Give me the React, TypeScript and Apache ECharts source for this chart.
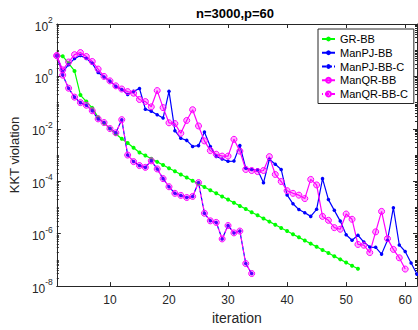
import React, { useEffect, useRef } from "react";
import * as echarts from "echarts";

// log10 of KKT violation, iteration k = index + 1
const grbbLog = [
  0.79, 0.77, 0.5, 0.21, -0.71, -0.96, -1.2, -1.56, -1.78, -1.99, -2.2, -2.38, -2.54, -2.72, -2.9,
  -3.02, -3.14, -3.26, -3.38, -3.5, -3.62, -3.74, -3.86, -3.98, -4.1, -4.22, -4.34, -4.46, -4.58,
  -4.7, -4.82, -4.94, -5.06, -5.18, -5.3, -5.42, -5.54, -5.66, -5.78, -5.9, -6.02, -6.14, -6.26,
  -6.38, -6.5, -6.62, -6.74, -6.86, -6.98, -7.1, -7.22, -7.34,
];
const manpjLog = [
  0.79, 0.17, 0.45, 0.68, 0.8, 0.68, 0.5, 0.15, -0.02, -0.18, -0.38, -0.5, -0.69, -0.57, -0.46,
  -1.25, -1.33, -1.46, -1.59, -0.57, -2.07, -2.36, -2.44, -2.67, -2.64, -2.12, -2.67, -3.05, -3.15,
  -3.24, -3.23, -2.64, -3.5, -3.55, -3.56, -4.06, -3.16, -3.35, -3.55, -4.52, -4.86, -5.08, -5.2,
  -5.34, -5.07, -3.9, -4.7, -5.11, -5.52, -6.04, -6.25, -6.06, -6.32, -6.51, -6.52, -6.78, -6.25,
  -5.01, -6.43, -6.68, -7.12, -7.55,
];
const manpjCLog = [
  0.79, 0.05, -0.45, -0.79, -1.0, -1.1, -1.31, -1.62, -1.76, -1.99, -2.15, -1.65, -3.0, -3.25, -3.4,
  -3.47, -3.22, -3.53, -3.9, -4.21, -4.46, -4.54, -4.62, -4.58, -4.05, -5.22, -5.51, -5.57, -6.2,
  -5.69, -5.97, -5.9, -7.14, -7.52,
];
const manqrLog = [
  0.79, 0.25, 0.55, 0.83, 0.91, 0.76, 0.57, 0.28, 0.0, -0.17, -0.36, -0.48, -0.58, -0.64, -0.88,
  -0.96, -1.16, -0.54, -1.19, -1.77, -1.8, -2.17, -1.68, -1.27, -1.89, -2.46, -2.83, -2.97, -3.04,
  -3.04, -2.4, -2.85, -3.55, -3.59, -3.63, -3.59, -3.06, -3.74, -4.01, -4.36, -4.46, -4.53, -4.66,
  -3.93, -4.14, -5.34, -5.49, -5.77, -5.83, -5.25, -5.45, -6.41, -6.44, -6.72, -5.93, -5.15, -6.19,
  -6.6, -6.92, -7.35,
];
const manqrCLog = [
  0.79, 0.05, -0.45, -0.79, -1.0, -1.1, -1.31, -1.62, -1.76, -1.99, -2.15, -1.65, -3.0, -3.25, -3.4,
  -3.47, -3.22, -3.53, -3.9, -4.21, -4.46, -4.54, -4.62, -4.58, -4.05, -5.22, -5.51, -5.57, -6.2,
  -5.69, -5.97, -5.9, -7.14, -7.52,
];
const seriesNames = ["GR-BB", "ManPJ-BB", "ManPJ-BB-C", "ManQR-BB", "ManQR-BB-C"];
const xTicks = [10, 20, 30, 40, 50, 60];
const yExpMin = -8;
const yExpMax = 2;
const titleText = "n=3000,p=60";

const FONT = "'Liberation Sans', Arial, Helvetica, sans-serif";
const AX = "#262626";

const toPoints = (arr: number[]) => arr.map((e, i) => [i + 1, e]);

export default function App() {
  const ref = useRef<HTMLDivElement>(null);
  useEffect(() => {
    document.body.style.margin = "0";
    if (!ref.current) return;
    const chart = echarts.init(ref.current, undefined, { renderer: "svg" });

    const minorY: number[] = [];
    for (let d = yExpMin; d < yExpMax; d++) {
      if (d % 2 !== 0) minorY.push(d);
      for (let k = 2; k <= 9; k++) minorY.push(d + Math.log10(k));
    }

    const yMain = (pos: "left" | "right", labels: boolean) => ({
      type: "value",
      position: pos,
      min: yExpMin,
      max: yExpMax,
      interval: 2,
      axisLine: { show: true, onZero: false, lineStyle: { color: AX, width: 1 } },
      axisTick: { show: true, inside: true, length: 4, lineStyle: { color: AX } },
      splitLine: { show: false },
      axisLabel: labels
        ? {
            show: true,
            margin: 4,
            color: AX,
            fontFamily: FONT,
            formatter: (v: number) => `{b|10}{s|${v}}`,
            rich: {
              b: { fontSize: 12, fontFamily: FONT, color: AX, verticalAlign: "bottom", padding: [5, 0, 0, 0] },
              s: { fontSize: 8.5, fontFamily: FONT, color: AX, verticalAlign: "top" },
            },
          }
        : { show: false },
      ...(labels
        ? {
            name: "KKT violation",
            nameLocation: "middle",
            nameGap: 31,
            nameTextStyle: { fontSize: 13, fontFamily: FONT, color: AX },
          }
        : {}),
    });
    const yMinor = (pos: "left" | "right") => ({
      type: "value",
      position: pos,
      min: yExpMin,
      max: yExpMax,
      axisLine: { show: false },
      axisTick: { show: true, inside: true, length: 2, customValues: minorY, lineStyle: { color: AX } },
      axisLabel: { show: false },
      splitLine: { show: false },
    });

    const xAx = (pos: "bottom" | "top", labels: boolean) => ({
      type: "value",
      position: pos,
      min: 1,
      max: 62,
      axisLine: { show: true, onZero: false, lineStyle: { color: AX, width: 1 } },
      axisTick: { show: true, inside: true, length: 4, customValues: xTicks, lineStyle: { color: AX } },
      axisLabel: labels
        ? { show: true, customValues: xTicks, margin: 8, fontSize: 12, color: AX, fontFamily: FONT }
        : { show: false },
      splitLine: { show: false },
      ...(labels
        ? {
            name: "iteration",
            nameLocation: "middle",
            nameGap: 23,
            nameTextStyle: { fontSize: 14, fontFamily: FONT, color: AX },
          }
        : {}),
    });

    const qrItem = { color: "rgba(255,0,255,0.3)", borderColor: "#ff00ff", borderWidth: 1 };

    chart.setOption({
      animation: false,
      backgroundColor: "#ffffff",
      title: {
        text: titleText,
        left: 235,
        top: 7,
        textAlign: "center",
        padding: 0,
        textStyle: { fontSize: 13, fontWeight: "bold", color: "#000", fontFamily: FONT },
      },
      grid: { left: 53, right: 1, top: 24, bottom: 36, containLabel: false },
      xAxis: [xAx("bottom", true), xAx("top", false)],
      yAxis: [yMain("left", true), yMain("right", false), yMinor("left"), yMinor("right")],
      legend: {
        orient: "vertical",
        left: 318,
        top: 29,
        padding: [4.5, 6, 4, 3],
        itemGap: 2.75,
        itemWidth: 13,
        itemHeight: 6,
        borderColor: AX,
        borderWidth: 1,
        borderRadius: 0,
        backgroundColor: "#ffffff",
        textStyle: { fontSize: 11, color: "#000", fontFamily: FONT },
        data: seriesNames,
      },
      series: [
        {
          name: seriesNames[0],
          type: "line",
          data: toPoints(grbbLog),
          symbol: "circle",
          symbolSize: 4,
          showAllSymbol: true,
          lineStyle: { width: 1.2, color: "#00ff00" },
          itemStyle: { color: "#00ff00" },
        },
        {
          name: seriesNames[1],
          type: "line",
          data: toPoints(manpjLog),
          symbol: "circle",
          symbolSize: 3.5,
          showAllSymbol: true,
          lineStyle: { width: 1.2, color: "#0000ff" },
          itemStyle: { color: "#0000ff" },
        },
        {
          name: seriesNames[2],
          type: "line",
          data: toPoints(manpjCLog),
          symbol: "circle",
          symbolSize: 3.5,
          showAllSymbol: true,
          lineStyle: { width: 1.2, color: "#0000ff", type: [4, 2] },
          itemStyle: { color: "#0000ff" },
        },
        {
          name: seriesNames[3],
          type: "line",
          data: toPoints(manqrLog),
          symbol: "circle",
          symbolSize: 6,
          showAllSymbol: true,
          lineStyle: { width: 1.2, color: "#ff00ff" },
          itemStyle: qrItem,
        },
        {
          name: seriesNames[4],
          type: "line",
          data: toPoints(manqrCLog),
          symbol: "circle",
          symbolSize: 6,
          showAllSymbol: true,
          lineStyle: { width: 1.2, color: "#ff00ff", type: [4, 2], dashOffset: 3 },
          itemStyle: qrItem,
        },
      ],
    });
    return () => chart.dispose();
  }, []);
  return <div ref={ref} style={{ position: "fixed", left: 0, top: 0, width: 418, height: 330 }} />;
}
